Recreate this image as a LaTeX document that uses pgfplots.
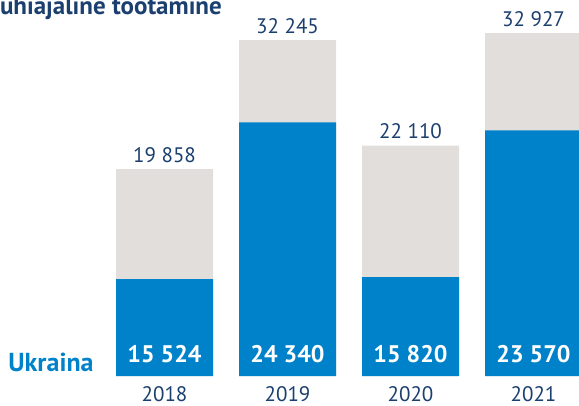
\documentclass[border=0pt]{standalone}
\usepackage{pgfplots}
\pgfplotsset{compat=1.18}
\usepackage{fontspec}
\setmainfont{PT Sans}
\definecolor{barblue}{HTML}{0082CA}
\definecolor{bargrey}{HTML}{E2DEDC}
\definecolor{navy}{HTML}{1B3F6E}

\begin{document}
\begin{tikzpicture}[x=1pt,y=1pt]
\useasboundingbox (0,0) rectangle (579,405);
\begin{axis}[
    at={(0,0)}, anchor=south west,
    width=579pt, height=405pt, scale only axis,
    xmin=-1.3374, xmax=3.3699,
    ymin=-2784, ymax=36096,
    hide axis, clip=false,
    ybar, bar width=97pt, bar shift=0pt,
]
% total (grey) and Ukraine part (blue), blue drawn at the heights shown
\addplot[fill=bargrey, draw=none] coordinates {(0,19858) (1,32245) (2,22110) (3,32927)};
\addplot[fill=barblue, draw=none] coordinates {(0,9310) (1,24340) (2,9500) (3,23570)};

\tikzset{tot/.style={anchor=base, inner sep=1pt, text=navy, font=\fontsize{21}{25}\selectfont},
         ukr/.style={anchor=base, text=white, font=\bfseries\fontsize{24}{28}\selectfont}}
\node[tot, yshift=7pt] at (axis cs:0,19858) {19 858};
\node[tot, yshift=7pt] at (axis cs:1,32245) {32 245};
\node[tot, yshift=7pt] at (axis cs:2,22110) {22 110};
\node[tot, yshift=7pt] at (axis cs:3,32927) {32 927};

\node[ukr, yshift=14pt] at (axis cs:0,0) {15 524};
\node[ukr, yshift=14pt] at (axis cs:1,0) {24 340};
\node[ukr, yshift=14pt] at (axis cs:2,0) {15 820};
\node[ukr, yshift=14pt] at (axis cs:3,0) {23 570};

\node[tot, yshift=-25.5pt] at (axis cs:0,0) {2018};
\node[tot, yshift=-25.5pt] at (axis cs:1,0) {2019};
\node[tot, yshift=-25.5pt] at (axis cs:2,0) {2020};
\node[tot, yshift=-25.5pt] at (axis cs:3,0) {2021};
\end{axis}
\node[anchor=base, text=barblue, font=\bfseries\fontsize{26}{30}\selectfont] at (51,33.7) {Ukraina};
\node[anchor=base east, inner sep=0pt, text=navy, font=\bfseries\fontsize{25}{30}\selectfont] at (222,390.5) {Lühiajaline töötamine};
\end{tikzpicture}
\end{document}
